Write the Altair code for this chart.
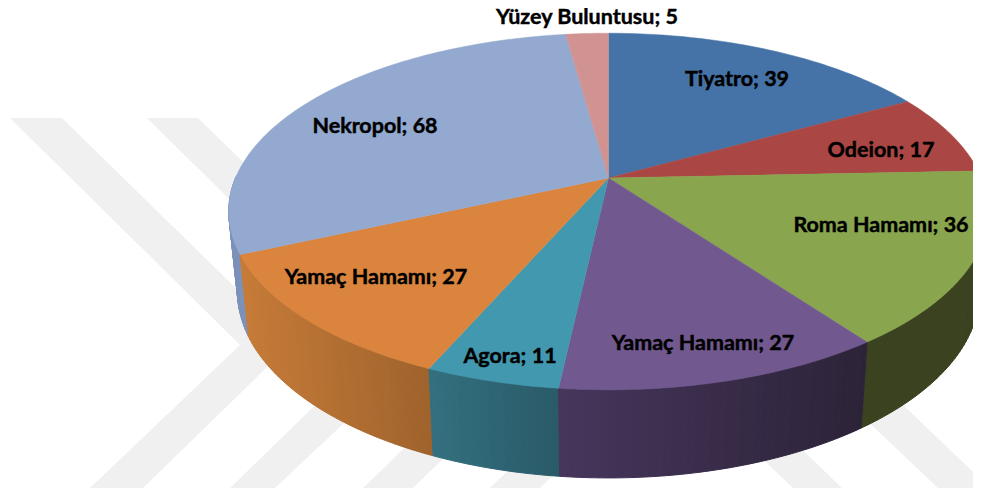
import math
import altair as alt
import pandas as pd

# ---- chart data -------------------------------------------------------
categories = ["Tiyatro", "Odeion", "Roma Hamamı", "Yamaç Hamamı", "Agora",
              "Yamaç Hamamı", "Nekropol", "Yüzey Buluntusu"]
values = [39, 17, 36, 27, 11, 27, 68, 5]

# ---- styles -----------------------------------------------------------
face_colors = ["#4572A7", "#AA4643", "#89A54E", "#71588F", "#4198AF", "#DB843D", "#93A9CF", "#D19392"]
wall_left = ["#34557d", "#7f3432", "#3a4220", "#46365c", "#33707f", "#c67b38", "#7c92ba", "#9c6e6d"]
wall_right = ["#34557d", "#7f3432", "#3a4220", "#2c2338", "#295a68", "#a0632c", "#7c92ba", "#9c6e6d"]
label_x = [737, 881, 881, 703, 510, 376, 375, 587]
label_y = [80, 151, 226, 344, 357, 278, 127, 18]

# ---- background watermark (chevrons) ----------------------------------
band_polys = [
    [(10, 118), (62, 118), (292, 343), (143, 488), (90, 488), (240, 345)],
    [(147, 118), (198, 118), (429, 343), (275, 488), (230, 488), (377, 345)],
    [(363, 488), (413, 488), (563, 343), (513, 343)],
    [(490, 488), (540, 488), (690, 343), (640, 343)],
    [(793, 488), (842, 488), (692, 343), (640, 343)],
    [(938, 488), (990, 488), (838, 343), (785, 343)],
]
band_color = "#f0f0f0"

# ---- projection of the tilted disc ------------------------------------
HUB_X, HUB_Y, RX, RY, K = 608.5, 178, 373, 172, 0.188


def rim(theta):
    u, v = math.sin(theta), math.cos(theta)
    d = 1 + K * v
    return HUB_X + RX * u / d, HUB_Y - RY * v / d


def lower(x, y):
    return HUB_X + 0.977 * (x - HUB_X), 336 + 1.045 * (y - 254)


def mix(a, b, t):
    ca = [int(a[i:i + 2], 16) for i in (1, 3, 5)]
    cb = [int(b[i:i + 2], 16) for i in (1, 3, 5)]
    return "#" + "".join(f"{round(p + (q - p) * t):02x}" for p, q in zip(ca, cb))


total = sum(values)
bounds = [0.0]
for v in values:
    bounds.append(bounds[-1] + v / total * 2 * math.pi)

band_rows, wall_rows, face_rows = [], [], []
for b, poly in enumerate(band_polys):
    for i, (x, y) in enumerate(poly + poly[:1]):
        band_rows.append(dict(piece=b, i=i, x=x, y=y))

strips = []
for s in range(len(values)):
    a0, a1 = bounds[s], bounds[s + 1]
    n = max(2, int((a1 - a0) / math.radians(1)))
    xs = [rim(a0 + (a1 - a0) * j / n)[0] for j in range(n + 1)]
    xmin, xmax = min(xs), max(xs)
    # face
    pts = [(HUB_X, HUB_Y)] + [rim(a0 + (a1 - a0) * j / n) for j in range(n + 1)] + [(HUB_X, HUB_Y)]
    for i, (x, y) in enumerate(pts):
        face_rows.append(dict(piece=s, i=i, x=x, y=y, color=face_colors[s]))
    # wall strips
    for j in range(n):
        p, q = rim(a0 + (a1 - a0) * j / n), rim(a0 + (a1 - a0) * (j + 1) / n)
        if p[1] < HUB_Y and q[1] < HUB_Y:
            continue
        t = ((p[0] + q[0]) / 2 - xmin) / (xmax - xmin)
        col = mix(wall_left[s], wall_right[s], t)
        strips.append(((p[1] + q[1]) / 2, [p, q, lower(*q), lower(*p), p], col))

strips.sort(key=lambda r: r[0])
for k, (_, pts, col) in enumerate(strips):
    for i, (x, y) in enumerate(pts):
        wall_rows.append(dict(piece=k, i=i, x=x, y=y, color=col))

# ---- chart ------------------------------------------------------------
X = alt.X("x:Q", scale=alt.Scale(domain=[8, 973], nice=False, zero=False), axis=None)
Y = alt.Y("y:Q", scale=alt.Scale(domain=[488, 8], nice=False, zero=False), axis=None)

bands = alt.Chart(pd.DataFrame(band_rows)).mark_line(
    fill=band_color, stroke=band_color, strokeWidth=0, clip=True
).encode(x=X, y=Y, detail="piece:N", order="i:Q")

walls = alt.Chart(pd.DataFrame(wall_rows)).mark_line(strokeWidth=1, clip=True).encode(
    x=X, y=Y, detail="piece:N", order="i:Q",
    fill=alt.Fill("color:N", scale=None, legend=None),
    stroke=alt.Stroke("color:N", scale=None, legend=None),
)

faces = alt.Chart(pd.DataFrame(face_rows)).mark_line(strokeWidth=0.5, clip=True).encode(
    x=X, y=Y, detail="piece:N", order="i:Q",
    fill=alt.Fill("color:N", scale=None, legend=None),
    stroke=alt.Stroke("color:N", scale=None, legend=None),
)

label_df = pd.DataFrame({
    "label": [f"{c}; {v}" for c, v in zip(categories, values)],
    "x": label_x, "y": label_y,
})
labels = alt.Chart(label_df).mark_text(
    font="Lato", fontWeight="bold", fontSize=21.5, color="#000000", stroke="#000000", strokeWidth=0.45,
    align="center", baseline="middle"
).encode(x=X, y=Y, text="label:N")

chart = (bands + walls + faces + labels).properties(
    width=965, height=480, padding=0, background="#ffffff",
    autosize=alt.AutoSizeParams(type="none"),
).configure_view(stroke=None)

chart.save("out.html", embed_options={"renderer": "svg", "actions": False})
